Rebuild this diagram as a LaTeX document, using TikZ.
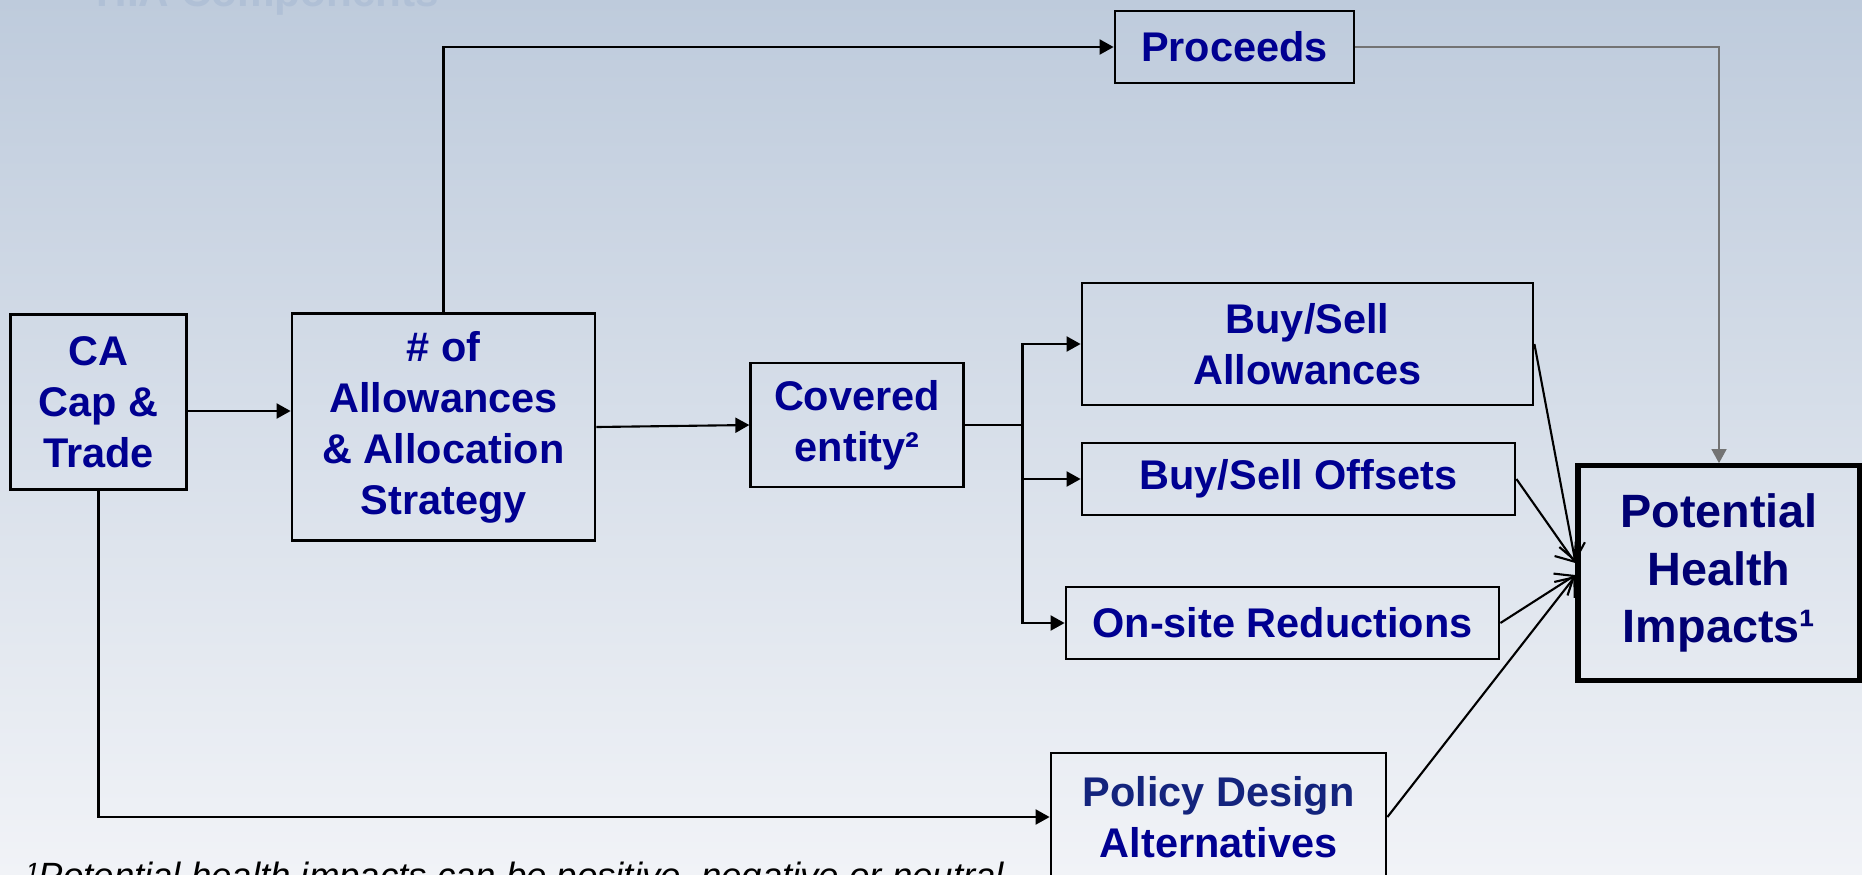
\documentclass[tikz,border=0pt]{standalone}
\usepackage{fontspec}
\setmainfont{Liberation Sans}
\usepackage{xcolor}
\usetikzlibrary{arrows.meta, positioning, calc}

\definecolor{bgtop}{RGB}{190,203,220}
\definecolor{bgbottom}{RGB}{241,243,247}
\definecolor{titlefaint}{RGB}{176,192,214}
\definecolor{boxtext}{RGB}{0,0,145}
\definecolor{healthtext}{RGB}{0,0,115}
\definecolor{policytext}{RGB}{20,36,125}

\begin{document}
\begin{tikzpicture}[
  box/.style={draw=black, line width=0.8pt, inner sep=0pt, align=center, text=boxtext, font=\fontsize{11.8}{14.5}\selectfont\bfseries},
  link/.style={-{Triangle[length=1.4mm, width=1.5mm]}, line width=0.6pt},
  merge/.style={-{Straight Barb[length=1.6mm, width=2.6mm]}, line width=0.6pt}
]
% background and frame
\shade[top color=bgtop, bottom color=bgbottom] (0,0) rectangle (18.62,-8.74);
\useasboundingbox (0,0) rectangle (18.62,-8.74);
\clip (0,0) rectangle (18.62,-8.74);

% faded slide title
\node[anchor=base west, inner sep=0pt, text=titlefaint, font=\fontsize{12}{14}\selectfont\bfseries] (title) at (0.96,-0.06) {HIA Components};

% boxes
\node[box, minimum width=1.76cm, minimum height=1.75cm] (ca) at (0.985,-4.02) {CA\\Cap \&\\Trade};
\node[box, minimum width=3.03cm, minimum height=2.265cm] (alloc) at (4.435,-4.27) {\# of\\Allowances\\\& Allocation\\Strategy};
\node[box, minimum width=2.125cm, minimum height=1.24cm] (covered) at (8.57,-4.25) {Covered\\entity²};
\node[box, minimum width=2.39cm, minimum height=0.72cm] (proceeds) at (12.345,-0.47) {Proceeds};
\node[box, minimum width=4.51cm, minimum height=1.22cm] (buyallow) at (13.075,-3.44) {Buy/Sell\\Allowances};
\node[box, minimum width=4.33cm, minimum height=0.72cm] (buyoffs) at (12.985,-4.79) {Buy/Sell Offsets};
\node[box, minimum width=4.33cm, minimum height=0.72cm] (onsite) at (12.825,-6.23) {On-site Reductions};
\node[box, line width=1.5pt, text=healthtext, font=\fontsize{13.3}{16.3}\selectfont\bfseries, minimum width=2.82cm, minimum height=2.145cm] (health) at (17.19,-5.73) {Potential\\Health\\Impacts¹};
\node[box, text=policytext, minimum width=3.35cm, minimum height=1.28cm] (policy) at (12.185,-8.17) {Policy Design\\\textcolor{boxtext}{Alternatives}};

% footnote
\node[anchor=base west, inner sep=0pt, font=\fontsize{10.4}{12}\selectfont\itshape] (note) at (0.26,-8.88) {¹Potential health impacts can be positive, negative or neutral};

% connectors
\coordinate (split) at (10.225,-4.25);
\draw[link] ([yshift=-0.09cm]ca.east) -- ([yshift=-0.09cm]ca.east -| alloc.west);
\draw[link] (alloc.east) -- (covered.west);
\draw[link] (alloc.north) |- (proceeds.west);
\draw[-{Triangle[length=1.4mm, width=1.5mm]}, line width=0.4pt, black!55] (proceeds.east) -| (health.north);
\draw[line width=0.6pt] (covered.east) -- (split);
\draw[link] (split) |- (buyallow.west);
\draw[link] (split) |- (buyoffs.west);
\draw[link] (split) |- (onsite.west);
\draw[link] (ca.south) |- (policy.west);

% everything meets the health box
\draw[merge] (buyallow.east) -- ([yshift=0.11cm]health.west);
\draw[merge] (buyoffs.east) -- ([yshift=0.1cm]health.west);
\draw[merge] (onsite.east) -- ([yshift=-0.02cm]health.west);
\draw[merge] (policy.east) -- ([yshift=-0.03cm]health.west);
\end{tikzpicture}
\end{document}
